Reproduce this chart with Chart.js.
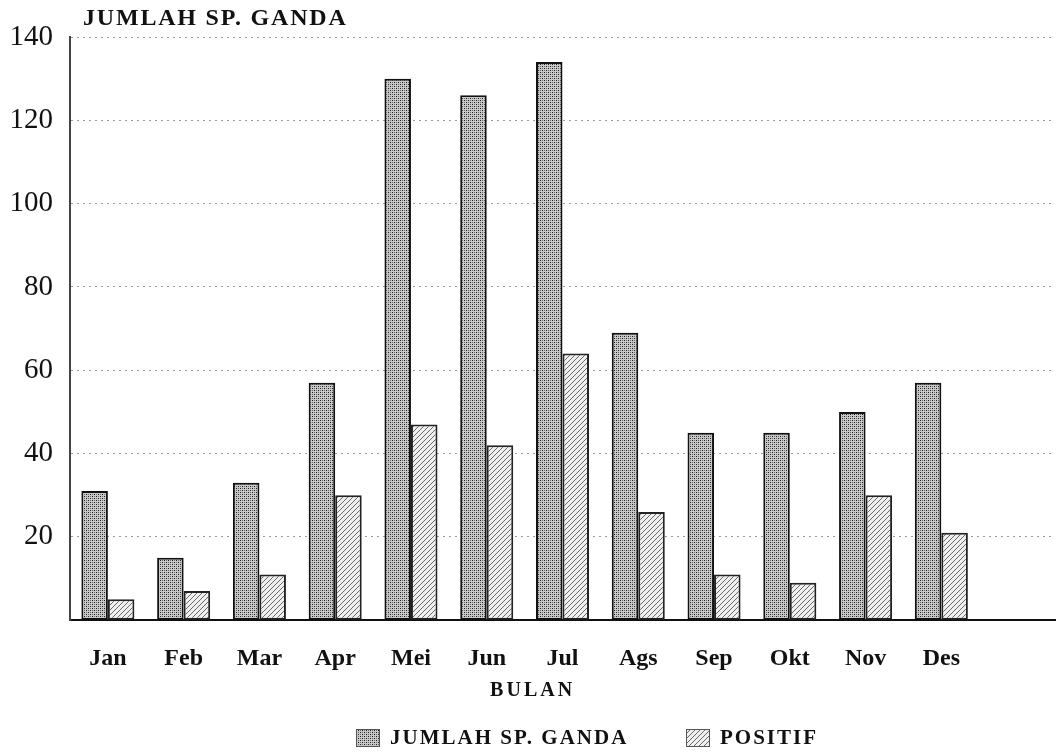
<!DOCTYPE html>
<html>
<head>
<meta charset="utf-8">
<script src="https://cdn.jsdelivr.net/npm/chart.js@4.4.1/dist/chart.umd.min.js"></script>
<style>
  html, body { margin: 0; padding: 0; background: #fff; }
  #wrap { width: 1057px; height: 753px; }
</style>
</head>
<body>
<div id="wrap"><canvas id="chart" width="1057" height="753"></canvas></div>
<script>
const months = ['Jan', 'Feb', 'Mar', 'Apr', 'Mei', 'Jun', 'Jul', 'Ags', 'Sep', 'Okt', 'Nov', 'Des', ''];
const jumlahSpGanda = [31, 15, 33, 57, 130, 126, 134, 69, 45, 45, 50, 57, null];
const positif = [5, 7, 11, 30, 47, 42, 64, 26, 11, 9, 30, 21, null];
const yTicks = [20, 40, 60, 80, 100, 120, 140];

const serif = '"Liberation Serif", "Times New Roman", serif';

function dotPattern() {
    const c = document.createElement('canvas');
    c.width = 4; c.height = 4;
    const g = c.getContext('2d');
    g.fillStyle = '#c8c8c8';
    g.fillRect(0, 0, 4, 4);
    g.fillStyle = '#1e1e1e';
    g.fillRect(0, 0, 1, 1);
    g.fillRect(2, 2, 1, 1);
    g.fillStyle = '#707070';
    g.fillRect(2, 0, 1, 1);
    g.fillRect(0, 2, 1, 1);
    return g.createPattern(c, 'repeat');
}

function hatchPattern() {
    const c = document.createElement('canvas');
    c.width = 5; c.height = 5;
    const g = c.getContext('2d');
    g.fillStyle = '#efefef';
    g.fillRect(0, 0, 5, 5);
    g.strokeStyle = '#6a6a6a';
    g.lineWidth = 1;
    g.beginPath();
    g.moveTo(-1, 6); g.lineTo(6, -1);
    g.moveTo(-1, 1); g.lineTo(1, -1);
    g.moveTo(4, 6); g.lineTo(6, 4);
    g.stroke();
    return g.createPattern(c, 'repeat');
}

const dots = dotPattern();
const hatch = hatchPattern();

// titles and legend drawn by hand so they sit where the scan has them
const extras = {
    id: 'extras',
    afterDraw(chart) {
        const { ctx, chartArea, scales } = chart;
        ctx.save();
        ctx.fillStyle = '#111';
        ctx.textBaseline = 'middle';

        ctx.font = 'bold 24px ' + serif;
        ctx.letterSpacing = '1.8px';
        ctx.textAlign = 'left';
        ctx.fillText('JUMLAH SP. GANDA', chartArea.left + 13, 19);

        const mid = (scales.x.getPixelForValue(0) + scales.x.getPixelForValue(11)) / 2;
        ctx.font = 'bold 20px ' + serif;
        ctx.letterSpacing = '3px';
        ctx.textAlign = 'center';
        ctx.fillText('BULAN', mid + 8, 691);

        const items = [
            { label: 'JUMLAH SP. GANDA', fill: dots, x: 356 },
            { label: 'POSITIF', fill: hatch, x: 686 }
        ];
        ctx.font = 'bold 21px ' + serif;
        ctx.letterSpacing = '2px';
        ctx.textAlign = 'left';
        items.forEach(it => {
            ctx.fillStyle = it.fill;
            ctx.fillRect(it.x, 729, 24, 18);
            ctx.strokeStyle = '#555';
            ctx.lineWidth = 1;
            ctx.strokeRect(it.x + 0.5, 729.5, 23, 17);
            ctx.fillStyle = '#111';
            ctx.fillText(it.label, it.x + 34, 739);
        });
        ctx.restore();
    }
};

new Chart(document.getElementById('chart'), {
    type: 'bar',
    data: {
        labels: months,
        datasets: [
            {
                label: 'JUMLAH SP. GANDA',
                data: jumlahSpGanda,
                backgroundColor: dots,
                borderColor: '#111',
                borderWidth: 2,
                borderSkipped: false,
                barPercentage: 1,
                categoryPercentage: 0.7
            },
            {
                label: 'POSITIF',
                data: positif,
                backgroundColor: hatch,
                borderColor: '#222',
                borderWidth: 2,
                borderSkipped: false,
                barPercentage: 1,
                categoryPercentage: 0.7
            }
        ]
    },
    options: {
        responsive: false,
        animation: false,
        layout: { padding: { top: 37, left: 0, right: 2, bottom: 56 } },
        scales: {
            x: {
                grid: { display: false, drawTicks: false },
                border: { display: true, color: '#111', width: 2 },
                ticks: {
                    color: '#111',
                    padding: 24,
                    font: { family: serif, size: 24, weight: 'bold' }
                }
            },
            y: {
                min: 0,
                max: 140,
                afterBuildTicks(scale) {
                    scale.ticks = [0].concat(yTicks).map(v => ({ value: v }));
                },
                afterFit(scale) {
                    scale.width = 70;
                },
                grid: {
                    color: '#9a9a9a',
                    lineWidth: 1,
                    drawTicks: false
                },
                border: { display: true, color: '#444', width: 2, dash: [2, 4] },
                ticks: {
                    color: '#111',
                    padding: 17,
                    font: { family: serif, size: 29 },
                    callback: v => (v === 0 ? '' : v)
                }
            }
        },
        plugins: {
            legend: { display: false },
            tooltip: { enabled: false }
        }
    },
    plugins: [extras]
});
</script>
</body>
</html>
